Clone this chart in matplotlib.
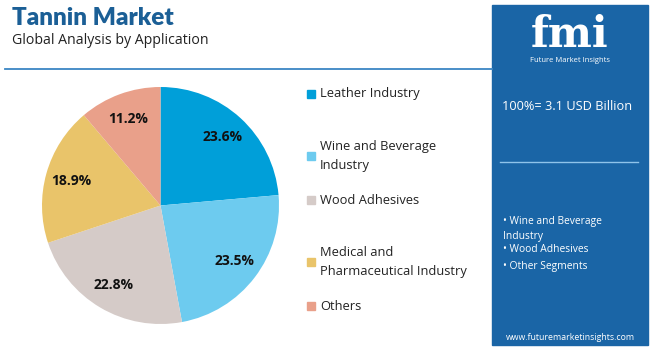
import matplotlib.pyplot as plt
from matplotlib.patches import Rectangle

categories = ['Leather Industry', 'Wine and Beverage\nIndustry', 'Wood Adhesives',
              'Medical and\nPharmaceutical Industry', 'Others']
shares = [23.6, 23.5, 22.8, 18.9, 11.2]
colors = ['#009fd9', '#6dcbef', '#d5cbc8', '#e9c46a', '#e9a08a']
bullets = ['• Wine and Beverage\nIndustry', '• Wood Adhesives', '• Other Segments']

plt.rcParams['font.family'] = ['Open Sans', 'DejaVu Sans']

W, H = 650, 352
fig = plt.figure(figsize=(6.5, 3.52), dpi=100)
fig.patch.set_facecolor('white')

def fx(x):
    return x / W

def fy(y):
    return 1 - y / H

# header
fig.text(fx(12), fy(18), 'Tannin Market', fontsize=17.5, fontweight='heavy',
         color='#1b5f96', va='center', family='Lato')
fig.text(fx(12), fy(40), 'Global Analysis by Application', fontsize=10.2,
         color='#222222', va='center')
fig.add_artist(plt.Line2D([fx(5), fx(492)], [fy(69), fy(69)], color='#3a86c4', lw=1.3))

# pie
ax = fig.add_axes([fx(42), fy(324), fx(237), 237 / H])
wedges, texts, autotexts = ax.pie(shares, colors=colors, startangle=90, counterclock=False,
                                  autopct='%.1f%%', pctdistance=0.78,
                                  wedgeprops=dict(linewidth=0))
for t in autotexts:
    t.set_fontsize(10)
    t.set_fontweight('bold')
    t.set_color('#111111')
ax.set_xlim(-1, 1)
ax.set_ylim(-1, 1)
ax.set_aspect('equal')

# legend
leg_y = [94, 156, 200, 262, 306]
for lab, c, y in zip(categories, colors, leg_y):
    fig.add_artist(Rectangle((fx(307), fy(y + 4)), fx(8), 8 / H, color=c))
    fig.text(fx(320), fy(y), lab, fontsize=9.3, color='#222222', va='center',
             linespacing=1.6)

# right panel
fig.add_artist(Rectangle((fx(492), fy(345)), fx(156), 340 / H, color='#1a65a6'))
fig.text(fx(570), fy(35), 'fmi', fontsize=30, fontweight='bold', color='white',
         ha='center', va='center', family='DejaVu Serif')
fig.text(fx(570), fy(61), 'Future Market Insights', fontsize=5.5, color='white',
         ha='center', va='center')
fig.text(fx(502), fy(107), '100%= 3.1 USD Billion', fontsize=9.2, color='white', va='center')
fig.add_artist(plt.Line2D([fx(500), fx(638)], [fy(162), fy(162)], color='#8fc3ea', lw=1))
fig.text(fx(503), fy(229), bullets[0], fontsize=7.4, color='white', va='center',
         linespacing=1.4)
fig.text(fx(503), fy(250), bullets[1], fontsize=7.4, color='white', va='center')
fig.text(fx(503), fy(267), bullets[2], fontsize=7.4, color='white', va='center')
fig.text(fx(570), fy(337), 'www.futuremarketinsights.com', fontsize=6.3, color='white',
         ha='center', va='center')

fig.savefig('out.png', dpi=100)
